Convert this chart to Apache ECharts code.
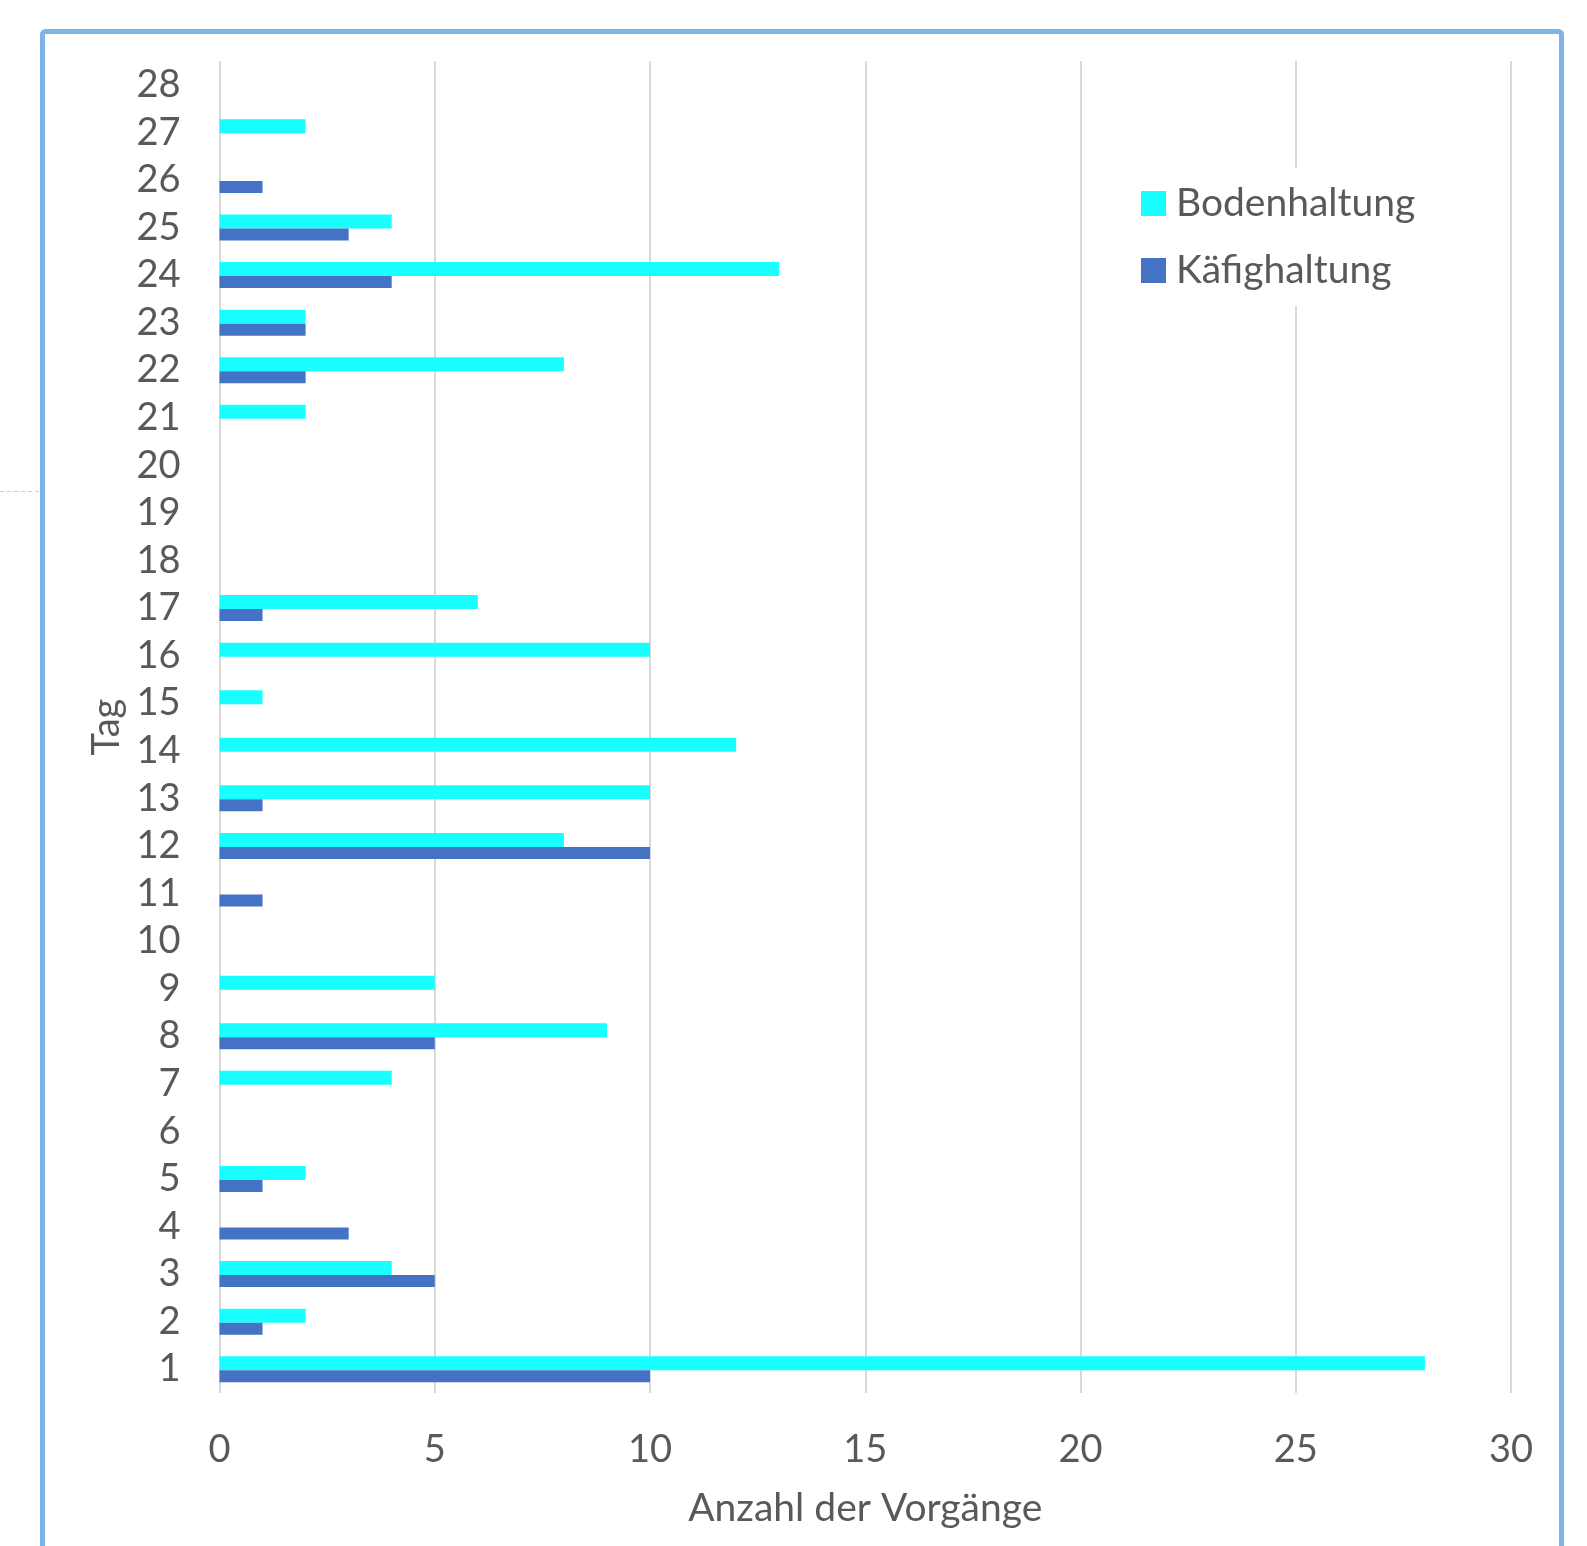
<!DOCTYPE html>
<html>
<head>
<meta charset="utf-8">
<title>Vorgänge pro Tag</title>
<script src="https://cdn.jsdelivr.net/npm/echarts@6/dist/echarts.min.js"></script>
<style>
  html, body { margin: 0; padding: 0; background: #ffffff; }
  #chart { width: 1587px; height: 1546px; }
</style>
</head>
<body>
<div id="chart"></div>
<script>
// Tage 1..28 (Kategorieachse, von unten nach oben)
const tage = ['1','2','3','4','5','6','7','8','9','10','11','12','13','14',
              '15','16','17','18','19','20','21','22','23','24','25','26','27','28'];

// Anzahl der Vorgänge je Tag
const bodenhaltung = [28, 2, 4, 0, 2, 0, 4, 9, 5, 0, 0, 8, 10, 12,
                      1, 10, 6, 0, 0, 0, 2, 8, 2, 13, 4, 0, 2, 0];
const kaefighaltung = [10, 1, 5, 3, 1, 0, 0, 5, 0, 0, 1, 10, 1, 0,
                       0, 0, 1, 0, 0, 0, 0, 2, 2, 4, 3, 1, 0, 0];

// Beschriftung der Werteachse
const xTicks = [0, 5, 10, 15, 20, 25, 30];

const textColor = '#595959';
const fontFamily = 'Lato, "Open Sans", sans-serif';

const chart = echarts.init(document.getElementById('chart'), null, { renderer: 'canvas' });

chart.setOption({
  backgroundColor: '#ffffff',
  animation: false,
  textStyle: { fontFamily: fontFamily, color: textColor },
  grid: {
    left: 219.5,
    right: 76,
    top: 61,
    bottom: 153,
    containLabel: false,
    outerBoundsMode: 'none'
  },
  legend: {
    orient: 'vertical',
    left: 1131,
    top: 168,
    padding: [16, 10, 16, 10],
    backgroundColor: '#ffffff',
    itemWidth: 25,
    itemHeight: 25,
    itemGap: 28,
    icon: 'rect',
    data: ['Bodenhaltung', 'Käfighaltung'],
    textStyle: { fontSize: 39, color: textColor, fontFamily: fontFamily, padding: [0, 0, 0, 5] }
  },
  xAxis: {
    type: 'value',
    min: xTicks[0],
    max: xTicks[xTicks.length - 1],
    interval: xTicks[1] - xTicks[0],
    name: 'Anzahl der Vorgänge',
    nameLocation: 'middle',
    nameGap: 96,
    nameTextStyle: { fontSize: 39, color: textColor, fontFamily: fontFamily },
    axisLine: { show: false },
    axisTick: { show: false },
    axisLabel: { fontSize: 38, color: textColor, margin: 38, fontFamily: fontFamily },
    splitLine: { show: true, lineStyle: { color: '#d9d9d9', width: 2 } }
  },
  yAxis: {
    type: 'category',
    data: tage,
    name: 'Tag',
    nameLocation: 'middle',
    nameRotate: 90,
    nameGap: 93,
    nameTextStyle: { fontSize: 38, color: textColor, fontFamily: fontFamily },
    axisLine: { show: false },
    axisTick: { show: false },
    axisLabel: { interval: 0, fontSize: 38, color: textColor, margin: 39, fontFamily: fontFamily },
    splitLine: { show: false }
  },
  series: [
    {
      name: 'Bodenhaltung',
      type: 'bar',
      data: bodenhaltung,
      barWidth: 14,
      barGap: '0%',
      itemStyle: { color: '#19ffff' }
    },
    {
      name: 'Käfighaltung',
      type: 'bar',
      data: kaefighaltung,
      barWidth: 12,
      barGap: '0%',
      itemStyle: { color: '#4472c4' }
    }
  ],
  graphic: [
    {
      // blauer Rahmen um das Diagramm
      type: 'rect',
      silent: true,
      shape: { x: 42.5, y: 31.5, width: 1519, height: 1600, r: 3 },
      style: { fill: 'none', stroke: '#7db4e6', lineWidth: 5 }
    },
    {
      // feine gestrichelte Linie am linken Rand
      type: 'line',
      silent: true,
      shape: { x1: 0, y1: 491.5, x2: 40, y2: 491.5 },
      style: { stroke: '#cfcfcf', lineWidth: 1, lineDash: [4, 3] }
    }
  ]
});
</script>
</body>
</html>
